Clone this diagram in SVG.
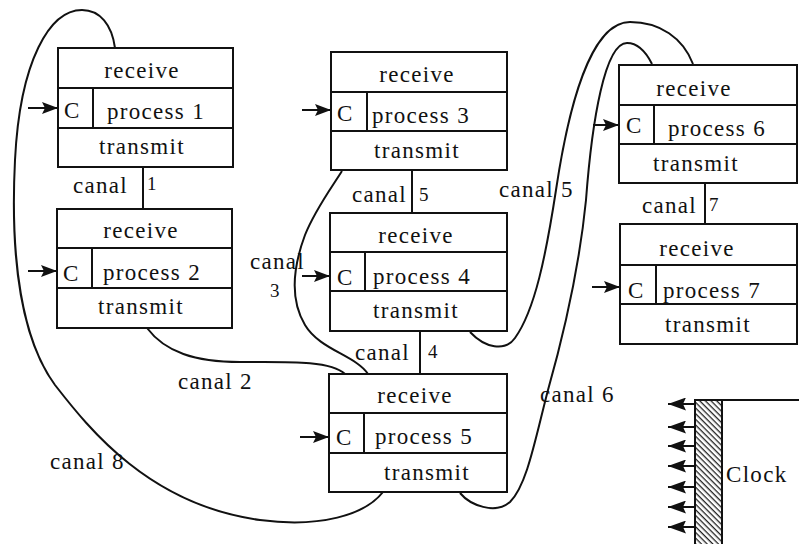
<svg xmlns="http://www.w3.org/2000/svg" width="799" height="544" viewBox="0 0 799 544">
<style>
  .box { fill: #fff; stroke: #111; stroke-width: 2; }
  .div { stroke: #111; stroke-width: 2; fill: none; }
  text { fill: #111; }
  .t { font-size: 23px; letter-spacing: 1.3px; }
  .m { text-anchor: middle; }
  .d { font-size: 19px; }
  .conn { fill: none; stroke: #111; stroke-width: 2; }
  .in { stroke: #111; stroke-width: 2; marker-end: url(#ah); }
  .clk { stroke: #111; stroke-width: 2; marker-end: url(#ch); }
</style>
<defs>
  <marker id="ah" viewBox="0 0 16 12" refX="16" refY="6" markerUnits="userSpaceOnUse" markerWidth="16" markerHeight="12" orient="auto" preserveAspectRatio="none">
    <path d="M0,0 L16,6 L0,12 L3,6 z" fill="#111"/>
  </marker>
  <marker id="ch" viewBox="0 0 18 13" refX="18" refY="6.5" markerUnits="userSpaceOnUse" markerWidth="18" markerHeight="13" orient="auto" preserveAspectRatio="none">
    <path d="M0,0 L18,6.5 L0,13 L3,6.5 z" fill="#111"/>
  </marker>
  <pattern id="hatch" patternUnits="userSpaceOnUse" width="4" height="4" patternTransform="rotate(45)">
    <rect width="4" height="4" fill="#fff"/>
    <rect y="0" width="4" height="1.3" fill="#222"/>
  </pattern>
</defs>
<rect width="799" height="544" fill="#fff"/>

<g font-family="'Liberation Serif', 'Times New Roman', Times, 'DejaVu Serif', serif">
<g id="connectors">
  <line class="div" x1="143" y1="167" x2="143" y2="209"/>
  <line class="div" x1="412" y1="170" x2="412" y2="213"/>
  <line class="div" x1="420" y1="331" x2="420" y2="374"/>
  <line class="div" x1="705" y1="183" x2="705" y2="224"/>
  <path class="conn" d="M115,48 C112,25 100,10 82,10 C50,10 20,60 15,160 C10,260 22,340 55,385 C90,430 150,505 260,520 C320,528 365,515 383,492"/>
  <path class="conn" d="M147,328 C165,352 195,362 240,362 C285,362 330,360 345,374"/>
  <path class="conn" d="M342,171 C330,190 315,210 305,235 C292,270 290,300 305,325 C320,350 355,355 368,374"/>
  <path class="conn" d="M693,64 C683,38 660,22 630,22 C590,22 568,110 556,190 C546,255 535,310 515,338 C505,352 485,348 470,332"/>
  <path class="conn" d="M652,64 C645,50 637,43 627,43 C605,43 592,120 586,200 C580,260 565,330 548,390 C535,440 527,485 510,502 C495,515 470,505 460,493"/>
  <text class="t" x="73" y="193">canal</text><text class="d" x="147" y="190">1</text>
  <text class="t" x="352" y="202">canal</text><text class="d" x="419" y="201">5</text>
  <text class="t" x="355" y="360">canal</text><text class="d" x="428" y="358">4</text>
  <text class="t" x="642" y="213">canal</text><text class="d" x="709" y="211">7</text>
  <text class="t" x="499" y="197">canal 5</text>
  <text class="t" x="178" y="389">canal 2</text>
  <text class="t" x="50" y="469">canal 8</text>
  <text class="t" x="540" y="402">canal 6</text>
  <text class="t" x="250" y="269">canal</text><text class="d" x="270" y="297">3</text>
</g>

<g id="process1">
  <rect class="box" x="58" y="48" width="175" height="119"/>
  <line class="div" x1="58" y1="88" x2="233" y2="88"/>
  <line class="div" x1="58" y1="128" x2="233" y2="128"/>
  <line class="div" x1="93" y1="88" x2="93" y2="128"/>
  <text class="t m" x="142" y="78">receive</text>
  <text class="t" x="64" y="118">C</text>
  <text class="t" x="107" y="119">process 1</text>
  <text class="t m" x="142" y="154">transmit</text>
  <line class="in" x1="28" y1="108" x2="58" y2="108"/>
</g>

<g id="process2">
  <rect class="box" x="57" y="209" width="175" height="119"/>
  <line class="div" x1="57" y1="248" x2="232" y2="248"/>
  <line class="div" x1="57" y1="288" x2="232" y2="288"/>
  <line class="div" x1="92" y1="248" x2="92" y2="288"/>
  <text class="t m" x="141" y="238">receive</text>
  <text class="t" x="63" y="281">C</text>
  <text class="t" x="103" y="280">process 2</text>
  <text class="t m" x="141" y="314">transmit</text>
  <line class="in" x1="28" y1="271" x2="57" y2="271"/>
</g>

<g id="process3">
  <rect class="box" x="331" y="52" width="176" height="118"/>
  <line class="div" x1="331" y1="92" x2="507" y2="92"/>
  <line class="div" x1="331" y1="131" x2="507" y2="131"/>
  <line class="div" x1="367" y1="92" x2="367" y2="131"/>
  <text class="t m" x="417" y="82">receive</text>
  <text class="t" x="337" y="121">C</text>
  <text class="t" x="372" y="123">process 3</text>
  <text class="t m" x="417" y="158">transmit</text>
  <line class="in" x1="302" y1="110" x2="331" y2="110"/>
</g>

<g id="process4">
  <rect class="box" x="330" y="213" width="177" height="118"/>
  <line class="div" x1="330" y1="252" x2="507" y2="252"/>
  <line class="div" x1="330" y1="291" x2="507" y2="291"/>
  <line class="div" x1="365" y1="252" x2="365" y2="291"/>
  <text class="t m" x="416" y="243">receive</text>
  <text class="t" x="337" y="285">C</text>
  <text class="t" x="373" y="284">process 4</text>
  <text class="t m" x="416" y="318">transmit</text>
  <line class="in" x1="302" y1="276" x2="330" y2="276"/>
</g>

<g id="process5">
  <rect class="box" x="329" y="374" width="178" height="118"/>
  <line class="div" x1="329" y1="413" x2="507" y2="413"/>
  <line class="div" x1="329" y1="453" x2="507" y2="453"/>
  <line class="div" x1="364" y1="413" x2="364" y2="453"/>
  <text class="t m" x="415" y="403">receive</text>
  <text class="t" x="336" y="445">C</text>
  <text class="t" x="375" y="444">process 5</text>
  <text class="t m" x="427" y="480">transmit</text>
  <line class="in" x1="300" y1="437" x2="329" y2="437"/>
</g>

<g id="process6">
  <rect class="box" x="619" y="65" width="178" height="118"/>
  <line class="div" x1="619" y1="105" x2="797" y2="105"/>
  <line class="div" x1="619" y1="144" x2="797" y2="144"/>
  <line class="div" x1="654" y1="105" x2="654" y2="144"/>
  <text class="t m" x="694" y="96">receive</text>
  <text class="t" x="626" y="133">C</text>
  <text class="t" x="668" y="136">process 6</text>
  <text class="t m" x="696" y="171">transmit</text>
  <line class="in" x1="593" y1="125" x2="619" y2="125"/>
</g>

<g id="process7">
  <rect class="box" x="620" y="224" width="177" height="120"/>
  <line class="div" x1="620" y1="265" x2="797" y2="265"/>
  <line class="div" x1="620" y1="304" x2="797" y2="304"/>
  <line class="div" x1="656" y1="265" x2="656" y2="304"/>
  <text class="t m" x="697" y="256">receive</text>
  <text class="t" x="628" y="298">C</text>
  <text class="t" x="663" y="298">process 7</text>
  <text class="t m" x="708" y="332">transmit</text>
  <line class="in" x1="592" y1="287" x2="620" y2="287"/>
</g>

<g id="clock">
  <rect x="695" y="400" width="27" height="150" fill="url(#hatch)" stroke="#111" stroke-width="2"/>
  <line class="div" x1="695" y1="400" x2="799" y2="400"/>
  <line class="div" x1="695" y1="400" x2="695" y2="544"/>
  <text class="t" x="726" y="482">Clock</text>
  <line class="clk" x1="695" y1="404" x2="668" y2="404"/>
  <line class="clk" x1="695" y1="427" x2="668" y2="427"/>
  <line class="clk" x1="695" y1="446" x2="668" y2="446"/>
  <line class="clk" x1="695" y1="466" x2="668" y2="466"/>
  <line class="clk" x1="695" y1="487" x2="668" y2="487"/>
  <line class="clk" x1="695" y1="507" x2="668" y2="507"/>
  <line class="clk" x1="695" y1="527" x2="668" y2="527"/>
</g>
</g>
</svg>
